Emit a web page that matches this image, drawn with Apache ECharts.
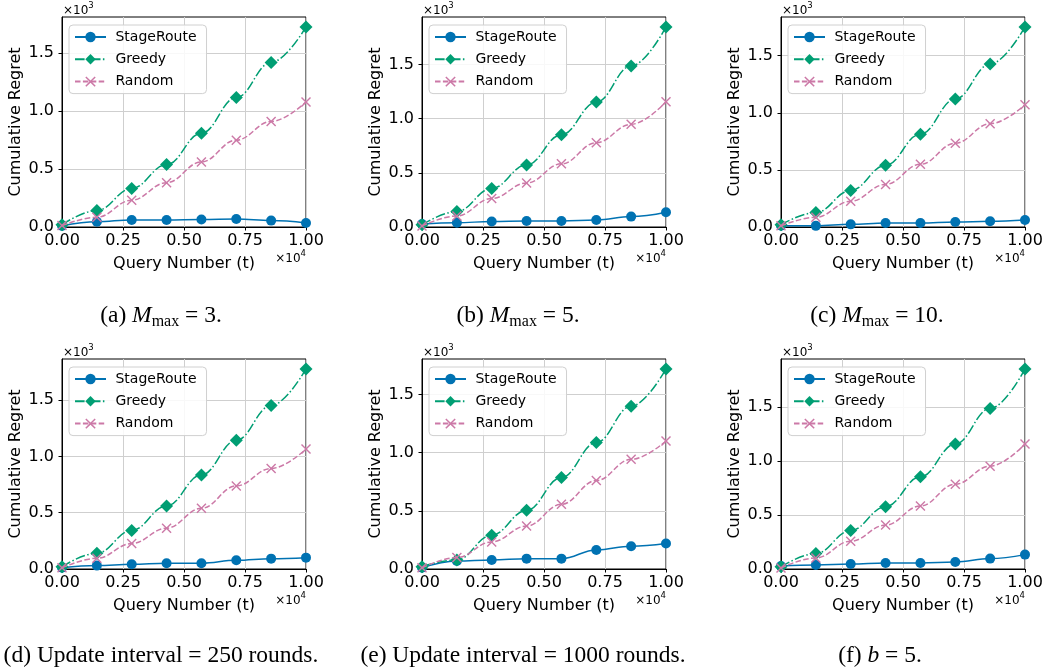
<!DOCTYPE html>
<html><head><meta charset="utf-8">
<script src="https://cdn.jsdelivr.net/npm/echarts@6/dist/echarts.min.js"></script>
<style>html,body{margin:0;padding:0;background:#fff}#c{width:1046px;height:669px}</style>
</head><body><div id="c"></div>
<script>
// x positions of the recorded points (queries)
const queries = [0, 1429, 2857, 4286, 5714, 7143, 8571, 10000];
const xTicks = [0, 2500, 5000, 7500, 10000];
const yTicks = [0, 500, 1000, 1500];
const seriesNames = ['StageRoute', 'Greedy', 'Random'];
const captions = [
  '(a) {i|M}{s|max} = 3.',
  '(b) {i|M}{s|max} = 5.',
  '(c) {i|M}{s|max} = 10.',
  '(d) Update interval = 250 rounds.',
  '(e) Update interval = 1000 rounds.',
  '(f) {i|b} = 5.'
];

// cumulative regret values
const stageA  = [10, 46, 61, 61, 64, 69, 55, 35];
const greedyA = [20, 142, 332, 538, 809, 1116, 1419, 1725];
const randomA = [12, 84, 231, 382, 561, 749, 910, 1078];

const stageB  = [28, 40, 50, 56, 56, 65, 96, 136];
const greedyB = [20, 143, 356, 573, 852, 1153, 1487, 1847];
const randomB = [10, 102, 263, 406, 583, 778, 948, 1156];

const stageC  = [12, 10, 23, 35, 35, 44, 50, 62];
const greedyC = [20, 126, 320, 540, 813, 1121, 1427, 1752];
const randomC = [10, 85, 226, 373, 549, 734, 904, 1071];

const stageD  = [12, 30, 42, 51, 51, 77, 92, 101];
const greedyD = [20, 140, 342, 560, 836, 1143, 1452, 1777];
const randomD = [10, 95, 226, 363, 539, 738, 893, 1065];

const stageE  = [10, 69, 78, 89, 89, 164, 196, 219];
const greedyE = [20, 78, 291, 504, 786, 1086, 1399, 1719];
const randomE = [10, 98, 233, 369, 556, 760, 942, 1100];

const stageF  = [28, 37, 46, 56, 56, 65, 96, 133];
const greedyF = [20, 143, 356, 576, 852, 1156, 1484, 1850];
const randomF = [10, 102, 257, 406, 583, 784, 951, 1156];

const panelData = [
  [stageA, greedyA, randomA],
  [stageB, greedyB, randomB],
  [stageC, greedyC, randomC],
  [stageD, greedyD, randomD],
  [stageE, greedyE, randomE],
  [stageF, greedyF, randomF]
];

// ---------- styling / layout ----------
const colors = ['#0072B2', '#009E73', '#CC79A7'];
const FONT = 'DejaVu Sans';
const SERIF = 'Liberation Serif';
const gridLefts = [62, 422, 781];
const gridTops = [17, 359];
const GW = 244, GH = 210;
const captionX = [161, 518, 877, 161, 523, 880];
const captionY = [316, 316, 316, 656, 656, 656];
const xMark = 'path://M0,1 L1,0 L5,4 L9,0 L10,1 L6,5 L10,9 L9,10 L5,6 L1,10 L0,9 L4,5 Z';
const symbols = ['circle', 'diamond', xMark];
const symbolSizes = [10, 13, 10];
const lineTypes = ['solid', [9.6, 2.4, 1.5, 2.4], [5.5, 2.4]];

const grids = [], xAxes = [], yAxes = [], series = [], legends = [], graphics = [];

panelData.forEach((arrs, i) => {
  const row = Math.floor(i / 3), col = i % 3;
  const gl = gridLefts[col], gt = gridTops[row];
  const dataMax = Math.max(...arrs.flat());
  const dataMin = Math.min(...arrs.flat());
  const yMax = dataMax + 0.05 * (dataMax - dataMin);

  grids.push({left: gl, top: gt, width: GW, height: GH, show: true,
    borderColor: '#000', borderWidth: 1, backgroundColor: 'transparent'});

  xAxes.push({
    gridIndex: i, type: 'value', min: 0, max: 10000, interval: 2500,
    name: 'Query Number (t)', nameLocation: 'middle', nameGap: 29,
    nameTextStyle: {fontFamily: FONT, fontSize: 16, color: '#000'},
    axisLine: {show: true, onZero: false, lineStyle: {color: '#000', width: 1}},
    axisTick: {show: true, length: 3.5, inside: false, lineStyle: {color: '#000', width: 1}},
    axisLabel: {fontFamily: FONT, fontSize: 16, color: '#000', margin: 6,
      formatter: v => (v / 10000).toFixed(2), showMaxLabel: true},
    splitLine: {show: true, lineStyle: {color: '#cfcfcf', width: 1}}
  });

  yAxes.push({
    gridIndex: i, type: 'value', min: 0, max: yMax, interval: 500,
    name: 'Cumulative Regret', nameLocation: 'middle', nameGap: 38,
    nameTextStyle: {fontFamily: FONT, fontSize: 16, color: '#000'},
    axisLine: {show: true, onZero: false, lineStyle: {color: '#000', width: 1}},
    axisTick: {show: true, length: 3.5, customValues: yTicks, lineStyle: {color: '#000', width: 1}},
    axisLabel: {fontFamily: FONT, fontSize: 16, color: '#000', margin: 8, customValues: yTicks,
      formatter: v => (Math.abs(v % 500) < 1e-6 ? (v / 1000).toFixed(1) : '')},
    splitLine: {show: true, lineStyle: {color: '#cfcfcf', width: 1}}
  });

  arrs.forEach((vals, k) => {
    series.push({
      name: seriesNames[k], type: 'line', xAxisIndex: i, yAxisIndex: i,
      data: queries.map((q, j) => [q, vals[j]]),
      smooth: 0.4, smoothMonotone: 'x',
      symbol: symbols[k], symbolSize: symbolSizes[k], showSymbol: true, showAllSymbol: true,
      clip: false,
      itemStyle: {color: colors[k], borderWidth: 0},
      lineStyle: {color: colors[k], width: 1.5, type: lineTypes[k]},
      emphasis: {disabled: true}, animation: false, z: 2 + k
    });
  });

  legends.push({
    data: seriesNames, orient: 'vertical', left: gl + 7, top: gt + 8,
    itemWidth: 31, itemHeight: 13, itemGap: 8.3, selectedMode: false,
    padding: [5, 10, 5, 5], borderColor: '#d0d0d0', borderWidth: 1, borderRadius: 4,
    backgroundColor: 'rgba(255,255,255,0.85)',
    formatter: n => ' ' + n,
    textStyle: {fontFamily: FONT, fontSize: 14, color: '#000'}, z: 10
  });

  const supRich = {
    b: {fontFamily: FONT, fontSize: 12, lineHeight: 16, verticalAlign: 'bottom'},
    p: {fontFamily: FONT, fontSize: 8.5, lineHeight: 16, verticalAlign: 'top', padding: [0, 0, 4, 0]}
  };
  graphics.push({type: 'text', x: gl + 1, y: gt - 8,
    style: {text: '{b|×10}{p|3}', fontFamily: FONT, fontSize: 12, fill: '#000', align: 'left', verticalAlign: 'middle', rich: supRich}});
  graphics.push({type: 'text', x: gl + GW, y: gt + GH + 30,
    style: {text: '{b|×10}{p|4}', fontFamily: FONT, fontSize: 12, fill: '#000', align: 'right', verticalAlign: 'middle', rich: supRich}});
  graphics.push({type: 'text', x: captionX[i], y: captionY[i],
    style: {text: captions[i], fontFamily: SERIF, fontSize: 23.5, fill: '#000', align: 'center', verticalAlign: 'middle',
      lineHeight: 28,
      rich: {
        i: {fontFamily: SERIF, fontSize: 23.5, fontStyle: 'italic', lineHeight: 28},
        s: {fontFamily: SERIF, fontSize: 16, lineHeight: 16, verticalAlign: 'bottom'}
      }}});
});

const chart = echarts.init(document.getElementById('c'), null, {renderer: 'canvas'});
chart.setOption({
  animation: false, backgroundColor: '#fff',
  grid: grids, xAxis: xAxes, yAxis: yAxes, series: series, legend: legends, graphic: graphics
});
</script></body></html>
